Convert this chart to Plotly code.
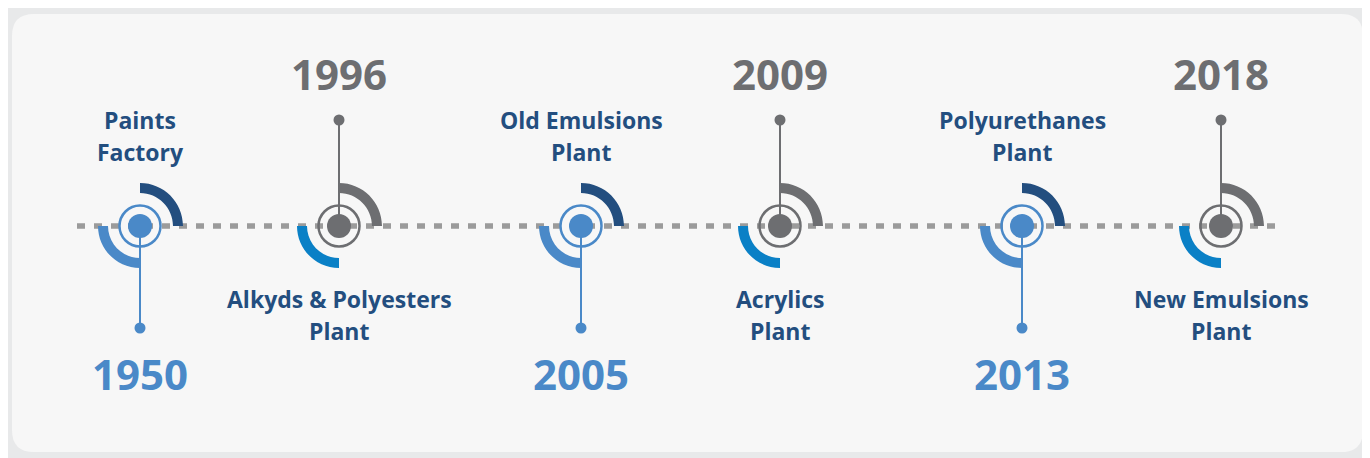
import plotly.graph_objects as go

# ---- data ----
years = ["1950", "1996", "2005", "2009", "2013", "2018"]
labels = [
    "Paints<br>Factory",
    "Alkyds & Polyesters<br>Plant",
    "Old Emulsions<br>Plant",
    "Acrylics<br>Plant",
    "Polyurethanes<br>Plant",
    "New Emulsions<br>Plant",
]
year_side = ["bottom", "top", "bottom", "top", "bottom", "top"]

# ---- styles ----
W, H = 1370, 458
OFF = 8  # page body margin compensation
NAVY = "#234e7f"
LBLUE = "#4a89c8"
BBLUE = "#0a80c6"
GRAY = "#6d6e71"
DASH = "#9b9b9b"
FONT = "Open Sans"
K = 0.5523

cy = 226


def xpos(i):
    return 140 + (i // 2) * 441 + (i % 2) * 199


def rrect(x0, y0, x1, y1, r):
    return (f"M{x0+r},{y0} L{x1-r},{y0} Q{x1},{y0} {x1},{y0+r} "
            f"L{x1},{y1-r} Q{x1},{y1} {x1-r},{y1} L{x0+r},{y1} "
            f"Q{x0},{y1} {x0},{y1-r} L{x0},{y0+r} Q{x0},{y0} {x0+r},{y0} Z")


def arc_tr(cx, cyy, r, R):
    return (f"M{cx},{cyy-R} C{cx+K*R},{cyy-R} {cx+R},{cyy-K*R} {cx+R},{cyy} "
            f"L{cx+r},{cyy} C{cx+r},{cyy-K*r} {cx+K*r},{cyy-r} {cx},{cyy-r} Z")


def arc_bl(cx, cyy, r, R):
    return (f"M{cx},{cyy+R} C{cx-K*R},{cyy+R} {cx-R},{cyy+K*R} {cx-R},{cyy} "
            f"L{cx-r},{cyy} C{cx-r},{cyy+K*r} {cx-K*r},{cyy+r} {cx},{cyy+r} Z")


shapes = []
shapes.append(dict(type="path", path=rrect(-10, -10, 1369, 457, 26), fillcolor="#e8e9ea",
                   line=dict(width=0), layer="below"))
shapes.append(dict(type="path", path=rrect(12, 14, 1363, 452, 22), fillcolor="#f7f7f7",
                   line=dict(width=0), layer="below"))
shapes.append(dict(type="line", x0=77, x1=1282, y0=cy, y1=cy,
                   line=dict(color=DASH, width=5.5, dash="8px,9px")))

annotations = []
for i, (yr, lab, side) in enumerate(zip(years, labels, year_side)):
    x = xpos(i)
    if side == "bottom":
        main, upper, lower, yc = LBLUE, NAVY, LBLUE, LBLUE
        stem_end = 328
        year_y, lab_y = 373, 120
    else:
        main, upper, lower, yc = GRAY, GRAY, BBLUE, GRAY
        stem_end = 120
        year_y, lab_y = 73, 299
    shapes.append(dict(type="path", path=arc_tr(x, cy, 33, 43), fillcolor=upper, line=dict(width=0)))
    shapes.append(dict(type="path", path=arc_bl(x, cy, 32, 42), fillcolor=lower, line=dict(width=0)))
    shapes.append(dict(type="line", x0=x, x1=x, y0=cy, y1=stem_end, line=dict(color=main, width=2)))
    shapes.append(dict(type="circle", x0=x - 5.5, x1=x + 5.5, y0=stem_end - 5.5, y1=stem_end + 5.5,
                       fillcolor=main, line=dict(width=0)))
    shapes.append(dict(type="circle", x0=x - 20.5, x1=x + 20.5, y0=cy - 20.5, y1=cy + 20.5,
                       line=dict(color=main, width=2.5)))
    shapes.append(dict(type="circle", x0=x - 12, x1=x + 12, y0=cy - 12, y1=cy + 12,
                       fillcolor=main, line=dict(width=0)))
    annotations.append(dict(x=x, y=year_y, text=yr, showarrow=False, xanchor="center", yanchor="middle",
                            font=dict(family=FONT, size=42, color=yc, weight=700)))
    for j, line in enumerate(lab.split("<br>")):
        annotations.append(dict(x=x, y=lab_y + 32 * j, text=line, showarrow=False,
                                xanchor="center", yanchor="middle",
                                font=dict(family=FONT, size=23, color=NAVY, weight=700)))

fig = go.Figure()
fig.update_layout(
    width=W, height=H,
    margin=dict(l=0, r=0, t=0, b=0),
    paper_bgcolor="#e8e9ea", plot_bgcolor="rgba(0,0,0,0)",
    xaxis=dict(range=[OFF, W + OFF], visible=False, fixedrange=True),
    yaxis=dict(range=[H + OFF, OFF], visible=False, fixedrange=True),
    shapes=shapes, annotations=annotations, showlegend=False,
)
fig.write_html("out.html")
